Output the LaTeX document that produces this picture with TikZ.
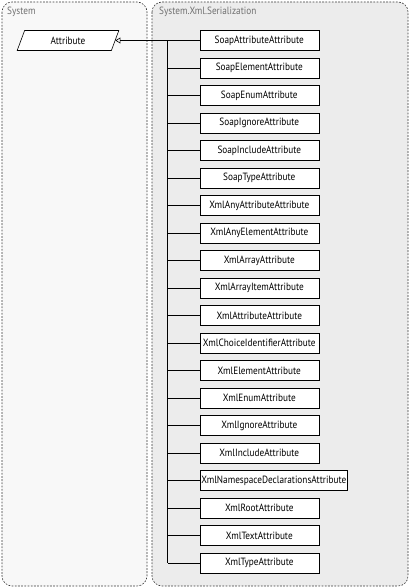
\documentclass[tikz,border=0pt]{standalone}
\usepackage{fontspec}
\setmainfont{PT Sans}[FakeStretch=0.88]
\usetikzlibrary{arrows.meta,shapes.geometric}
\definecolor{nsgray}{HTML}{ECECEC}
\definecolor{nslight}{HTML}{F8F8F8}
\definecolor{nsline}{HTML}{3A3A3A}
\definecolor{nstext}{HTML}{707070}
\tikzset{
  nspanel/.style={draw=nsline, line width=0.6pt, dash pattern=on 1.8pt off 1.4pt, rounded corners=10pt},
  nslabel/.style={anchor=west, inner sep=0pt, text=nstext, font=\fontsize{10.5}{12}\selectfont},
  classbox/.style={draw, line width=0.6pt, fill=white, anchor=west, minimum width=119pt, minimum height=20pt,
    inner xsep=1.5pt, inner ysep=1pt, font=\fontsize{10.5}{12}\selectfont},
  baseclass/.style={draw, line width=0.6pt, fill=white, trapezium, trapezium left angle=76, trapezium right angle=104,
    trapezium stretches=true, minimum width=102pt, minimum height=20pt, font=\fontsize{10.5}{12}\selectfont}
}
\begin{document}
\begin{tikzpicture}[x=1pt, y=-1pt]
    \useasboundingbox (0,0) rectangle (410,588);
    % namespaces
    \draw[nspanel, fill=nslight] (2,2) rectangle (147,586);
    \draw[nspanel, fill=nsgray] (152,2) rectangle (408,586);
    \node[nslabel] (sys) at (7,12) {System};
    \node[nslabel] (xmlser) at (159,12) {System.Xml.Serialization};
    % base class
    \node[baseclass] (attr) at (68,40.5) {Attribute};
    % derived classes
    \foreach \name [count=\i] in {SoapAttributeAttribute, SoapElementAttribute, SoapEnumAttribute,
        SoapIgnoreAttribute, SoapIncludeAttribute, SoapTypeAttribute, XmlAnyAttributeAttribute,
        XmlAnyElementAttribute, XmlArrayAttribute, XmlArrayItemAttribute, XmlAttributeAttribute,
        XmlChoiceIdentifierAttribute, XmlElementAttribute, XmlEnumAttribute, XmlIgnoreAttribute,
        XmlIncludeAttribute, XmlNamespaceDeclarationsAttribute, XmlRootAttribute,
        XmlTextAttribute, XmlTypeAttribute}
      \node[classbox] (c\i) at (199.5,{40.5+(\i-1)*27.5}) {\name};
    \coordinate (trunk) at (167.5,40.5);
    \draw[line width=0.6pt, -{Triangle[open, length=5pt, width=6pt]}] (c1.west) -- (attr.east);
    \draw[line width=0.6pt] (trunk) -- (trunk |- c20.west);
    \foreach \i in {2,...,20}
      \draw[line width=0.6pt] (c\i.west) -- (trunk |- c\i.west);
\end{tikzpicture}
\end{document}
